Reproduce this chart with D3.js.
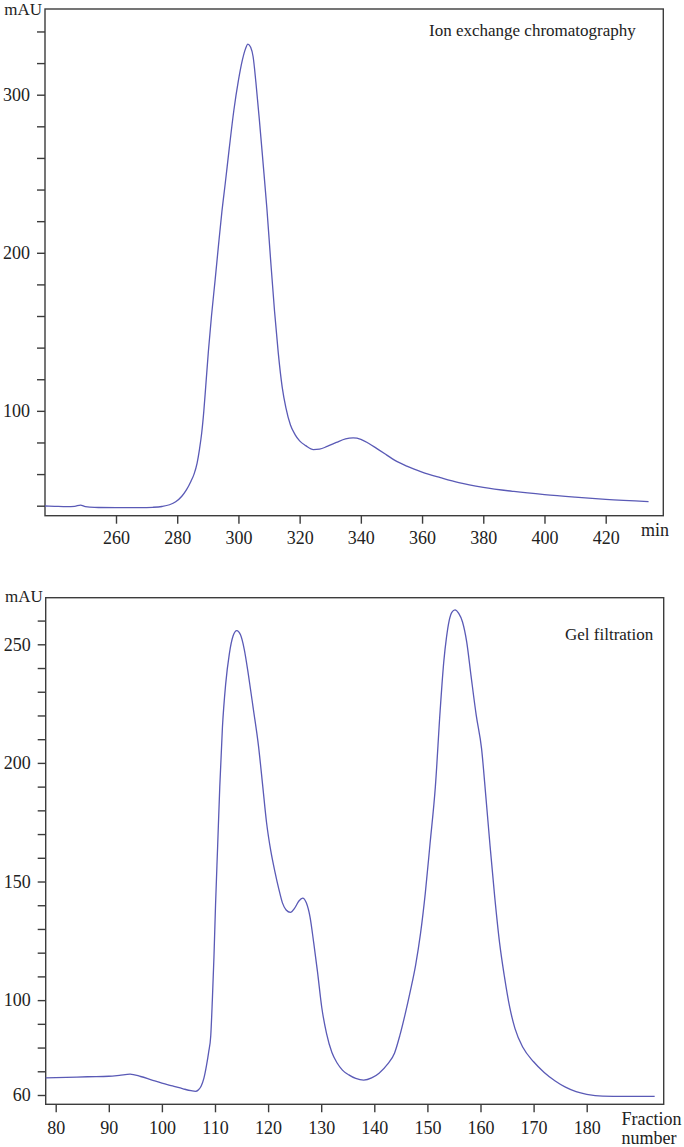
<!DOCTYPE html>
<html>
<head>
<meta charset="utf-8">
<script src="https://cdn.jsdelivr.net/npm/d3@7"></script>
<style>
  body { margin: 0; background: #fff; }
  svg { display: block; }
  text { font-family: "Liberation Serif", "Times New Roman", serif; fill: #222; }
</style>
</head>
<body>
<svg id="chart" width="684" height="1147"></svg>
<script>
// ion exchange trace (min, mAU)
const ionTime = [236.8, 240, 244, 246.5, 248.4, 250, 253, 260, 268, 272, 275, 277.5, 279.5, 281.5, 283, 284.5,
  285.5, 286.5, 287.3, 288, 288.7, 289.3, 290.2, 291.2, 292.4, 293.5, 294.6, 295.7, 297, 298.5, 300, 301.3,
  302.3, 303.1, 304, 304.8, 305.7, 306.8, 308, 309.3, 310.5, 311.8, 313, 314.3, 315.5, 317, 318.5, 320, 322,
  324.5, 326.5, 329, 332, 335, 337.5, 340, 342.5, 345.5, 348.5, 351, 355, 360, 366, 372, 380, 390, 400, 410,
  420, 434];
const ionAbs = [39.8, 39.6, 39.4, 39.6, 40.4, 39.4, 38.9, 38.8, 38.8, 39.0, 39.5, 40.6, 42.5, 46, 50, 55.5,
  60, 67, 76, 86, 100, 115, 138, 160, 183, 205, 226, 244, 266, 290, 309, 322,
  329, 332, 330, 324, 308, 285, 258, 228, 196, 163, 137, 115, 102, 91, 85, 81, 78,
  75.5, 75.8, 77.5, 80, 82.3, 82.9, 82, 79.5, 75.8, 72, 68.8, 65, 61.3, 57.8, 54.6, 51.6, 49, 47, 45.4,
  44, 42.6];

// gel filtration trace (fraction number, mAU)
const gelFrac = [78.1, 82, 86, 90, 92, 94, 96, 98, 100, 102, 104, 105.5, 106.3, 106.9, 107.4, 107.9, 108.4,
  108.8, 109.2, 109.5, 109.8, 110.1, 110.5, 110.9, 111.4, 112, 112.7, 113.4, 114.1, 114.8, 115.5, 116.3,
  117.2, 118.2, 119, 119.7, 120.5, 121.3, 122, 122.7, 123.4, 124.2, 125, 125.8, 126.5, 127.2, 127.9, 128.6,
  129.3, 130.1, 131, 132, 133, 134, 135.2, 136.5, 138, 139.5, 140.9, 142.5, 143.8, 144.8, 145.8, 146.8,
  147.8, 148.7, 149.6, 150.5, 151.5, 152.4, 153.1, 153.6, 154.1, 154.6, 155.2, 155.9, 156.6, 157.4, 158.2,
  159.2, 160.2, 161, 161.8, 162.7, 163.6, 164.5, 165.5, 166.5, 168, 170, 172, 174, 176, 178, 180, 183, 187, 192.8];
const gelAbs = [67.2, 67.4, 67.7, 67.9, 68.3, 68.8, 67.8, 66.4, 65, 63.8, 62.6, 61.8, 61.5, 62.2, 63.8, 67, 72.5,
  78, 85, 100, 118, 140, 165, 190, 215, 233, 246, 253.5, 255.8, 254, 248, 237,
  223, 207, 190, 175, 163, 154, 147, 141, 138, 137, 138.8, 141.8, 143, 141, 135, 124,
  112, 97, 86, 78, 73.5, 70.5, 68.5, 67, 66.3, 67.2, 69.2, 73, 77.6, 85, 94, 104,
  115, 128, 145, 166, 190, 222, 243, 253, 260, 263.5, 264.5, 263, 259.5, 251, 237,
  220, 206, 186, 165, 143, 124, 110, 97, 88, 80, 74, 69.5, 66, 63.3, 61.4, 60.3, 59.5, 59.4, 59.4];

const ionXTicks = [260, 280, 300, 320, 340, 360, 380, 400, 420];
const ionYTicks = d3.range(40, 341, 20);
const ionYLabels = [100, 200, 300];

const gelXTicks = [80, 90, 100, 110, 120, 130, 140, 150, 160, 170, 180];
const gelYTicks = d3.range(60, 261, 10);
const gelYLabels = [60, 100, 150, 200, 250];

const lineColor = "#5a5ab6";
const frameColor = "#3c3c3c";

const svg = d3.select("#chart");

function drawPanel(p) {
  const g = svg.append("g");
  const x = d3.scaleLinear().domain(p.xRef).range(p.xPix);
  const y = d3.scaleLinear().domain(p.yRef).range(p.yPix);

  // frame
  g.append("rect")
    .attr("x", p.box[0]).attr("y", p.box[1])
    .attr("width", p.box[2] - p.box[0]).attr("height", p.box[3] - p.box[1])
    .attr("fill", "none").attr("stroke", frameColor).attr("stroke-width", 1.4);

  const yAxis = d3.axisLeft(y)
    .tickValues(p.yTicks)
    .tickSize(8).tickPadding(7)
    .tickFormat(d => p.yLabels.includes(d) ? d : "");
  const ya = g.append("g").attr("transform", `translate(${p.box[0]},0)`).call(yAxis);

  const xAxis = d3.axisBottom(x)
    .tickValues(p.xTicks)
    .tickSize(8).tickPadding(p.xPad);
  const xa = g.append("g").attr("transform", `translate(0,${p.box[3]})`).call(xAxis);

  [ya, xa].forEach(a => {
    a.select(".domain").remove();
    a.selectAll("line").attr("stroke", frameColor).attr("stroke-width", 1.4);
    a.selectAll("text").attr("font-family", "Liberation Serif").attr("font-size", 18).attr("fill", "#222");
  });

  const line = d3.line()
    .x((d, i) => x(p.xs[i]))
    .y(d => y(d))
    .curve(d3.curveMonotoneX);
  g.append("path")
    .datum(p.ys)
    .attr("d", line)
    .attr("fill", "none")
    .attr("stroke", lineColor)
    .attr("stroke-width", 1.3);

  g.append("text")
    .attr("x", p.box[0] - 3).attr("y", p.box[1] + p.unitDy)
    .attr("text-anchor", "end")
    .attr("font-size", 17)
    .text("mAU");

  g.append("text")
    .attr("x", p.titlePos[0]).attr("y", p.titlePos[1])
    .attr("font-size", 17)
    .text(p.title);

  p.xLabel.forEach((t, i) => {
    g.append("text")
      .attr("x", p.xLabelPos[0]).attr("y", p.xLabelPos[1] + i * 19)
      .attr("font-size", 18)
      .text(t);
  });
}

drawPanel({
  xs: ionTime, ys: ionAbs,
  xRef: [260, 420], xPix: [116, 605.7],
  yRef: [40, 300], yPix: [505.7, 94.7],
  box: [45, 9, 663.3, 515.7],
  xTicks: ionXTicks, yTicks: ionYTicks, yLabels: ionYLabels,
  xPad: 7.5, unitDy: 6,
  title: "Ion exchange chromatography", titlePos: [429, 35.5],
  xLabel: ["min"], xLabelPos: [641, 535.5]
});

drawPanel({
  xs: gelFrac, ys: gelAbs,
  xRef: [80, 180], xPix: [55.7, 586.7],
  yRef: [60, 250], yPix: [1095, 644.3],
  box: [45.7, 597.7, 663.7, 1104.3],
  xTicks: gelXTicks, yTicks: gelYTicks, yLabels: gelYLabels,
  xPad: 9, unitDy: 4,
  title: "Gel filtration", titlePos: [565, 640],
  xLabel: ["Fraction", "number"], xLabelPos: [621.5, 1125]
});
</script>
</body>
</html>
